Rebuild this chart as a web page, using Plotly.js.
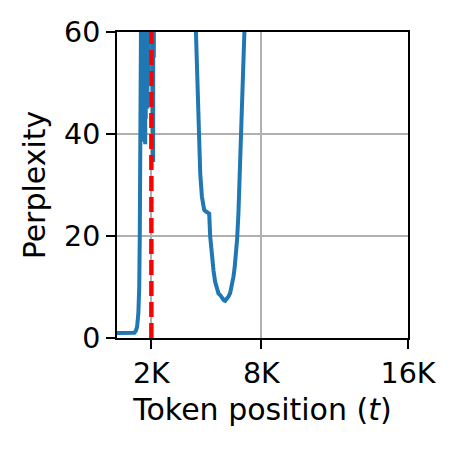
<!DOCTYPE html>
<html>
<head>
<meta charset="utf-8">
<script src="https://cdn.plot.ly/plotly-3.0.1.min.js"></script>
<style>html,body{margin:0;padding:0;background:#fff;}#chart{width:457px;height:451px;}</style>
</head>
<body>
<div id="chart"></div>
<script>
// Token positions (t) and perplexity
const tokenPositions = [128, 400, 700, 1000, 1100, 1180, 1250, 1320, 1370, 1400, 1430, 1455, 1470,
  1480, 1495, 1510, 1525, 1540, 1555, 1570, 1585, 1600, 1615, 1630, 1645, 1660, 1675, 1690, 1705, 1720,
  1735, 1750, 1765, 1780, 1795, 1810, 1825, 1840, 1855, 1870, 1890, 1910, 1930, 1950, 1970, 1990,
  2010, 2030, 2050, 2070, 2090, 2110, 2125, 2145, 2165, 2185, 2205, 2225, 2245, 2265, 2285, 2300,
  2500, 3000, 3500, 4000, 4300, 4420, 4500, 4538, 4610, 4683, 4777, 4872, 5000, 5100, 5200, 5279,
  5334, 5420, 5518, 5610, 5707, 5800, 5891, 6000, 6100, 6170, 6260, 6350, 6448, 6540, 6632, 6700,
  6766, 6840, 6911, 6960, 7005, 7061, 7150, 7245, 7350, 7500, 8000, 10000, 12000, 14000, 16384];
const perplexity = [1.0, 1.0, 1.0, 1.0, 1.05, 1.4, 2.2, 4.8, 10, 20, 32, 45, 62,
  110, 58, 170, 52, 140, 46, 200, 42, 160, 40, 220, 38.5, 130, 41, 250, 38, 180,
  43, 210, 47, 150, 50, 270, 45, 140, 55, 230, 52, 160, 60, 240, 58, 170,
  65, 260, 62, 150, 70, 200, 48, 34.5, 120, 55, 230, 60, 180, 66, 300, 450,
  900, 1500, 1200, 600, 180, 95, 70, 60, 50, 40.6, 32.3, 27.7, 25.1, 24.8, 24.6, 24.4,
  19.9, 16.2, 13.3, 11.0, 9.4, 8.7, 8.4, 7.8, 7.4, 7.3, 7.6, 8.1, 8.8, 10.2, 12.0, 13.8,
  15.9, 19.5, 24.4, 29, 34.2, 40.6, 50, 60, 85, 150, 400, 1200, 2500, 3000, 4000];
const trainLength = [2048];
const xTickValues = [2048, 8192, 16384];
const xTickLabels = ['2K', '8K', '16K'];
const yTickValues = [0, 20, 40, 60];

const fontFamily = 'DejaVu Sans, sans-serif';
const axisCommon = {
  showgrid: true, gridcolor: '#b0b0b0', gridwidth: 2,
  showline: true, linecolor: '#000', linewidth: 2, mirror: true,
  ticks: 'outside', ticklen: 9, tickwidth: 2, tickcolor: '#000',
  zeroline: false, tickfont: {family: fontFamily, size: 28.5, color: '#000'}
};

const data = [{
  x: tokenPositions, y: perplexity, type: 'scatter', mode: 'lines',
  line: {color: '#1f77b4', width: 4}, hoverinfo: 'skip', showlegend: false
}];

const layout = {
  width: 457, height: 451,
  margin: {l: 117, r: 49, t: 32, b: 113},
  paper_bgcolor: '#fff', plot_bgcolor: '#fff',
  showlegend: false,
  xaxis: Object.assign({}, axisCommon, {
    range: [128, 16384], tickmode: 'array', tickvals: xTickValues, ticktext: xTickLabels,
    title: {text: 'Token position (<i>t</i>)', font: {family: fontFamily, size: 30, color: '#000'}, standoff: 10}
  }),
  yaxis: Object.assign({}, axisCommon, {
    range: [0, 60], tickmode: 'array', tickvals: yTickValues,
    title: {text: 'Perplexity', font: {family: fontFamily, size: 30, color: '#000'}, standoff: 10}
  }),
  shapes: trainLength.map(v => ({
    type: 'line', xref: 'x', yref: 'paper', x0: v, x1: v, y0: 0, y1: 1,
    line: {color: '#ff0000', width: 4.5, dash: '15px,6px'}, layer: 'above'
  }))
};

Plotly.newPlot('chart', data, layout, {staticPlot: true, displayModeBar: false});
</script>
</body>
</html>
